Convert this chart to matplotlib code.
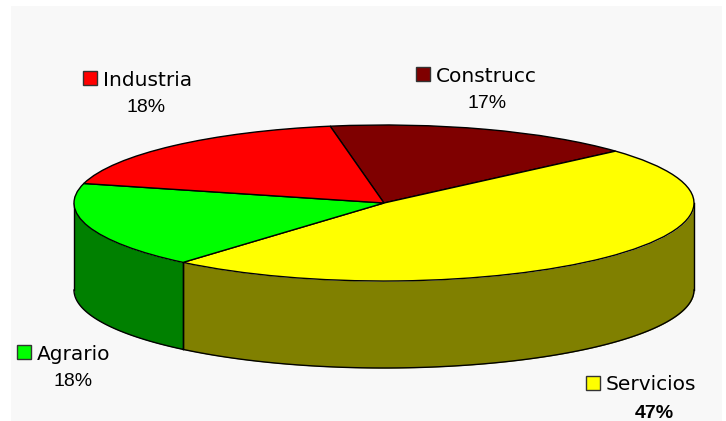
import numpy as np
import matplotlib
matplotlib.use("Agg")
import matplotlib.pyplot as plt
from matplotlib.patches import Rectangle

labels = ["Construcc", "Servicios", "Agrario", "Industria"]
values = [16.2, 47.8, 17.8, 18.2]
pct_labels = ["17%", "47%", "18%", "18%"]
top_colors = ["#7f0000", "#ffff00", "#00ff00", "#ff0000"]
side_colors = ["#400000", "#808000", "#008000", "#800000"]
label_px = [(416, 74), (586, 383), (17, 352), (83, 78)]
pct_px = [(487, 102), (654, 412), (73, 380), (146, 106)]

W, H = 726, 421
cx, cy, rx, ry, depth = 384, 203, 310, 78, 87
start = 100

fig = plt.figure(figsize=(W / 100, H / 100), dpi=100, facecolor="white")
bg = fig.add_axes([0, 0, 1, 1])
bg.set_xlim(0, W); bg.set_ylim(H, 0); bg.axis("off")
bg.add_patch(Rectangle((11, 6), 711, 415, fc="#f8f8f8", ec="none"))

ax = fig.add_axes([0, 0, 1, 1])
ax.patch.set_alpha(0)

# side wall
d = depth / ry
edges = start - np.cumsum([0] + values) * 3.6
for i, (hi, lo) in enumerate(zip(edges[:-1], edges[1:])):
    t0, t1 = max(lo, -180), min(hi, 0)
    if t1 <= t0:
        continue
    t = np.radians(np.linspace(t0, t1, 120))
    xs = np.cos(t)
    ax.fill_between(xs, np.sin(t), np.sin(t) - d, color=side_colors[i], lw=0, zorder=1)
    ax.plot(xs, np.sin(t) - d, color="black", lw=1, zorder=2)
    for e in (t0, t1):
        ax.plot([np.cos(np.radians(e))] * 2, [np.sin(np.radians(e)), np.sin(np.radians(e)) - d],
                color="black", lw=1, zorder=2)

wedges, _ = ax.pie(values, colors=top_colors, startangle=start, counterclock=False,
                   wedgeprops=dict(edgecolor="black", linewidth=1), normalize=True)
for w in wedges:
    w.set_zorder(3)

ax.set_aspect("auto")
ax.set_xlim(-cx / rx, (W - cx) / rx)
ax.set_ylim(-(H - cy) / ry, cy / ry)
ax.axis("off")

label_font = dict(family="DejaVu Sans", fontsize=14.5, color="black", va="center_baseline")
pct_font = dict(family="Liberation Sans", fontsize=14, color="black", va="center_baseline")
for name, col, (lx, ly), pct, (px, py) in zip(labels, top_colors, label_px, pct_labels, pct_px):
    bg.add_patch(Rectangle((lx, ly - 7), 14, 14, fc=col, ec="#333333", lw=1))
    txt = bg.text(lx + 20, ly, name, **label_font)
    pt = bg.text(px, py, pct, ha="center",
                 fontweight="bold" if pct == "47%" else "normal", **pct_font)
    txt.set_zorder(5); pt.set_zorder(5)

fig.savefig("out.png", dpi=100, facecolor="white")
